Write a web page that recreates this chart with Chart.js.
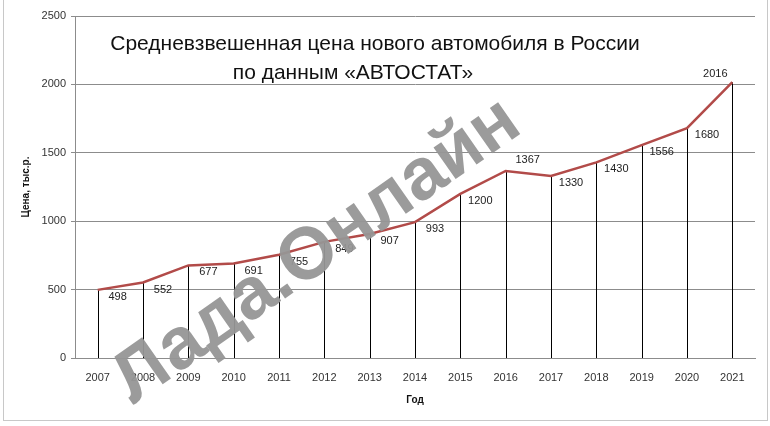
<!DOCTYPE html>
<html>
<head>
<meta charset="utf-8">
<script src="https://cdn.jsdelivr.net/npm/chart.js@4/dist/chart.umd.min.js"></script>
<style>
  html, body { margin: 0; padding: 0; background: #fff; }
  #wrap { position: relative; width: 770px; height: 426px; overflow: hidden; font-family: "Liberation Sans", Arial, sans-serif; }
  #frame { position: absolute; left: 3px; top: -2px; width: 763px; height: 421px; border: 1px solid #c8c8c8; pointer-events: none; }
  .ttl { position: absolute; width: 640px; text-align: center; font-size: 21px; color: #111; white-space: nowrap; }
  #wm { position: absolute; left: 314px; top: 247px; transform: translate(-50%, -50%) rotate(-35deg);
        font-weight: bold; font-size: 73px; color: rgba(150,150,150,0.95); white-space: nowrap; }
</style>
</head>
<body>
<div id="wrap">
  <canvas id="c" width="770" height="426"></canvas>
  <div class="ttl" style="left:55px; top:31px;">Средневзвешенная цена нового автомобиля в России</div>
  <div class="ttl" style="left:33px; top:60px;">по данным «АВТОСТАТ»</div>
  <div id="wm">Лада.Онлайн</div>
  <div id="frame"></div>
</div>
<script>
// average price of a new car, thousand roubles
const years = ['2007','2008','2009','2010','2011','2012','2013','2014','2015','2016','2017','2018','2019','2020','2021'];
const prices = [498, 552, 677, 691, 755, 849, 907, 993, 1200, 1367, 1330, 1430, 1556, 1680, 2016];
const yTicks = [0, 500, 1000, 1500, 2000, 2500];

Chart.defaults.font.family = '"Liberation Sans", Arial, sans-serif';

// thin black lines from every point down to the x axis
const dropLines = {
  id: 'dropLines',
  beforeDatasetsDraw(chart) {
    const { ctx, scales: { y } } = chart, y0 = y.getPixelForValue(0);
    ctx.save(); ctx.strokeStyle = '#000'; ctx.lineWidth = 1;
    chart.getDatasetMeta(0).data.forEach(p => {
      const x = Math.round(p.x) + 0.5;
      ctx.beginPath(); ctx.moveTo(x, p.y); ctx.lineTo(x, y0); ctx.stroke();
    });
    ctx.restore();
  }
};

// value labels next to the points
const valueLabels = {
  id: 'valueLabels',
  afterDatasetsDraw(chart) {
    const { ctx } = chart, pts = chart.getDatasetMeta(0).data;
    ctx.save(); ctx.font = '11px "Liberation Sans", Arial'; ctx.fillStyle = '#222';
    ctx.textAlign = 'center'; ctx.textBaseline = 'middle';
    pts.forEach((p, i) => {
      let dx = 20, dy = 7;
      if (i === pts.length - 1) { dx = -17; dy = -8; }
      else if (prices[i] > prices[i + 1]) { dx = 22; dy = -11; }
      ctx.fillText(String(prices[i]), p.x + dx, p.y + dy);
    });
    ctx.restore();
  }
};

new Chart(document.getElementById('c'), {
  type: 'line',
  data: { labels: years, datasets: [{ data: prices, borderColor: '#b24b49', borderWidth: 2.5, pointRadius: 0, tension: 0, fill: false }] },
  options: {
    responsive: false, animation: false,
    layout: { padding: { left: 0, top: 16, right: 15, bottom: 0 } },
    plugins: { legend: { display: false }, tooltip: { enabled: false } },
    scales: {
      x: {
        offset: true,
        grid: { display: false, drawTicks: false },
        border: { display: true, color: '#8c8c8c', width: 1 },
        ticks: { color: '#333', font: { size: 11 }, padding: 13, maxRotation: 0, autoSkip: false },
        title: { display: true, text: 'Год', color: '#111', font: { size: 10, weight: 'bold' }, padding: { top: 0, bottom: 20 } },
        afterFit: s => { s.height = 68; }
      },
      y: {
        min: 0, max: 2500,
        afterBuildTicks: s => { s.ticks = yTicks.map(v => ({ value: v })); },
        grid: { color: '#8c8c8c', tickLength: 4, drawTicks: true },
        border: { display: true, color: '#8c8c8c', width: 1 },
        ticks: { color: '#333', font: { size: 11 }, padding: 5, callback: v => String(v) },
        title: { display: true, text: 'Цена, тыс.р.', color: '#111', font: { size: 10, weight: 'bold' }, padding: { top: 20, bottom: 0 } },
        afterFit: s => { s.width = 75; }
      }
    }
  },
  plugins: [dropLines, valueLabels]
});
</script>
</body>
</html>
